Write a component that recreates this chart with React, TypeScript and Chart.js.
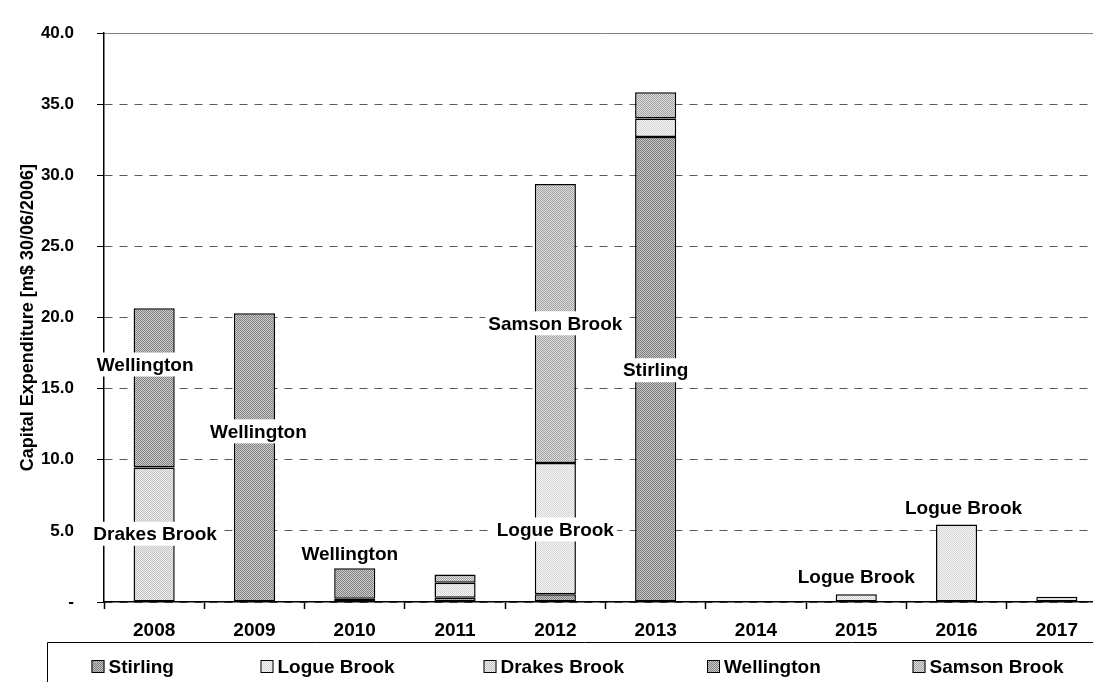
import React, { useEffect, useRef } from 'react';
import { Chart, registerables } from 'chart.js';

Chart.register(...registerables);

// Financial years
const years = ['2008', '2009', '2010', '2011', '2012', '2013', '2014', '2015', '2016', '2017'];

// Capital expenditure per project, m$ (30/06/2006 dollars)
const stirling = [null, null, 0.23, 0.3, 0.55, 32.7, null, null, null, null];
const logueBrook = [null, null, null, 1.06, 9.23, 1.3, null, 0.55, 5.45, 0.37];
const drakesBrook = [9.45, null, null, null, null, null, null, null, null, null];
const wellington = [11.2, 20.3, 2.14, null, null, null, null, null, null, null];
const samsonBrook = [null, null, null, 0.58, 19.61, 1.85, null, null, null, null];

const seriesNames = ['Stirling', 'Logue Brook', 'Drakes Brook', 'Wellington', 'Samson Brook'];

// Y axis
const yMin = 0;
const yMax = 40;
const yStep = 5;

// Project call-outs written on the bars: year, text, height on the value axis
const callouts = [
  { year: '2008', text: 'Wellington', at: 16.7, dx: -9 },
  { year: '2008', text: 'Drakes Brook', at: 4.8, dx: 1 },
  { year: '2009', text: 'Wellington', at: 12.0, dx: 4 },
  { year: '2010', text: 'Wellington', at: 3.4, dx: -5 },
  { year: '2012', text: 'Samson Brook', at: 19.6, dx: 0 },
  { year: '2012', text: 'Logue Brook', at: 5.1, dx: 0 },
  { year: '2013', text: 'Stirling', at: 16.3, dx: 0 },
  { year: '2015', text: 'Logue Brook', at: 1.8, dx: 0 },
  { year: '2016', text: 'Logue Brook', at: 6.6, dx: 7 },
];

const FONT = '"Liberation Sans", Arial, Helvetica, sans-serif';

// Two-tone checker fill, like a printed halftone
function checker(dark: string, light: string): CanvasPattern | string {
  const tile = document.createElement('canvas');
  tile.width = 2;
  tile.height = 2;
  const c = tile.getContext('2d');
  if (!c) return dark;
  c.fillStyle = light;
  c.fillRect(0, 0, 2, 2);
  c.fillStyle = dark;
  c.fillRect(0, 0, 1, 1);
  c.fillRect(1, 1, 1, 1);
  const p = c.createPattern(tile, 'repeat');
  return p || dark;
}

export default function App() {
  const ref = useRef<HTMLCanvasElement | null>(null);

  useEffect(() => {
    const canvas = ref.current;
    if (!canvas) return;

    const fills = [
      checker('#7c7c7c', '#c6c6c6'),
      checker('#d2d2d2', '#f8f8f8'),
      checker('#c4c4c4', '#eeeeee'),
      checker('#828282', '#cccccc'),
      checker('#a2a2a2', '#dedede'),
    ];
    const values = [stirling, logueBrook, drakesBrook, wellington, samsonBrook];

    const calloutPlugin = {
      id: 'callouts',
      afterDatasetsDraw(chart: any) {
        const { ctx, scales } = chart;
        const x = scales.x;
        const y = scales.y;
        ctx.save();
        ctx.font = `bold 19px ${FONT}`;
        ctx.textAlign = 'center';
        ctx.textBaseline = 'middle';
        callouts.forEach((c) => {
          const px = x.getPixelForValue(years.indexOf(c.year)) + c.dx;
          const py = y.getPixelForValue(c.at);
          const w = ctx.measureText(c.text).width;
          ctx.fillStyle = '#ffffff';
          ctx.fillRect(px - w / 2 - 3, py - 12, w + 6, 24);
          ctx.fillStyle = '#000000';
          ctx.fillText(c.text, px, py + 1);
        });
        ctx.restore();
      },
    };

    const legendPlugin = {
      id: 'boxLegend',
      afterDraw(chart: any) {
        const { ctx } = chart;
        const slots = [91.5, 260.5, 483.5, 707, 912.5];
        ctx.save();
        ctx.strokeStyle = '#000000';
        ctx.lineWidth = 1;
        ctx.beginPath();
        ctx.moveTo(47.5, 700);
        ctx.lineTo(47.5, 642.5);
        ctx.lineTo(chart.width + 10, 642.5);
        ctx.stroke();
        ctx.font = `bold 19px ${FONT}`;
        ctx.textAlign = 'left';
        ctx.textBaseline = 'middle';
        seriesNames.forEach((name, i) => {
          const sx = slots[i];
          ctx.fillStyle = fills[i];
          ctx.fillRect(sx, 660, 13, 13);
          ctx.strokeStyle = '#000000';
          ctx.strokeRect(sx + 0.5, 660.5, 12, 12);
          ctx.fillStyle = '#000000';
          ctx.fillText(name, sx + 17, 667.5);
        });
        ctx.restore();
      },
    };

    const chart = new Chart(canvas, {
      type: 'bar',
      data: {
        labels: years,
        datasets: seriesNames.map((name, i) => ({
          label: name,
          data: values[i],
          backgroundColor: fills[i],
          borderColor: '#000000',
          borderWidth: 1.5,
          borderSkipped: false,
          barPercentage: 0.41,
          categoryPercentage: 1,
        })),
      },
      options: {
        responsive: false,
        maintainAspectRatio: false,
        animation: false,
        layout: { padding: { top: 24, left: 0, right: 13, bottom: 41 } },
        plugins: {
          legend: { display: false },
          tooltip: { enabled: false },
          title: { display: false },
        },
        scales: {
          x: {
            stacked: true,
            offset: true,
            grid: {
              offset: true,
              drawOnChartArea: false,
              drawTicks: true,
              tickLength: 7,
              tickColor: '#000000',
              tickWidth: 1.5,
            },
            border: { display: true, color: '#000000', width: 1.5 },
            ticks: {
              color: '#000000',
              font: { family: FONT, size: 19, weight: 'bold' },
              padding: 10,
              maxRotation: 0,
              autoSkip: false,
            },
            afterFit(scale: any) {
              scale.height = 39;
            },
          },
          y: {
            stacked: true,
            min: yMin,
            max: yMax,
            grid: {
              color: (c: any) => (c.tick && c.tick.value === yMax ? '#808080' : '#5a5a5a'),
              lineWidth: 1,
              drawTicks: true,
              tickLength: 7,
              tickColor: '#000000',
              tickBorderDash: [],
            } as any,
            border: {
              display: true,
              color: '#000000',
              width: 1.5,
              dash: (c: any) => (c.tick && c.tick.value === yMax ? [] : [8, 7]),
            } as any,
            ticks: {
              stepSize: yStep,
              color: '#000000',
              font: { family: FONT, size: 17, weight: 'bold' },
              padding: 23,
              callback: (v: any) => (Number(v) === 0 ? '-' : Number(v).toFixed(1)),
            },
            title: {
              display: true,
              text: 'Capital Expenditure [m$ 30/06/2006]',
              color: '#000000',
              font: { family: FONT, size: 18, weight: 'bold' },
              padding: { top: 17, bottom: 0 },
            },
            afterFit(scale: any) {
              scale.width = 104;
            },
          },
        },
      },
      plugins: [calloutPlugin, legendPlugin],
    });

    return () => chart.destroy();
  }, []);

  return (
    <div
      style={{
        position: 'absolute',
        left: 0,
        top: 0,
        width: 1093,
        height: 682,
        overflow: 'hidden',
        background: '#ffffff',
      }}
    >
      <canvas ref={ref} width={1120} height={682} style={{ width: 1120, height: 682, display: 'block' }} />
    </div>
  );
}
